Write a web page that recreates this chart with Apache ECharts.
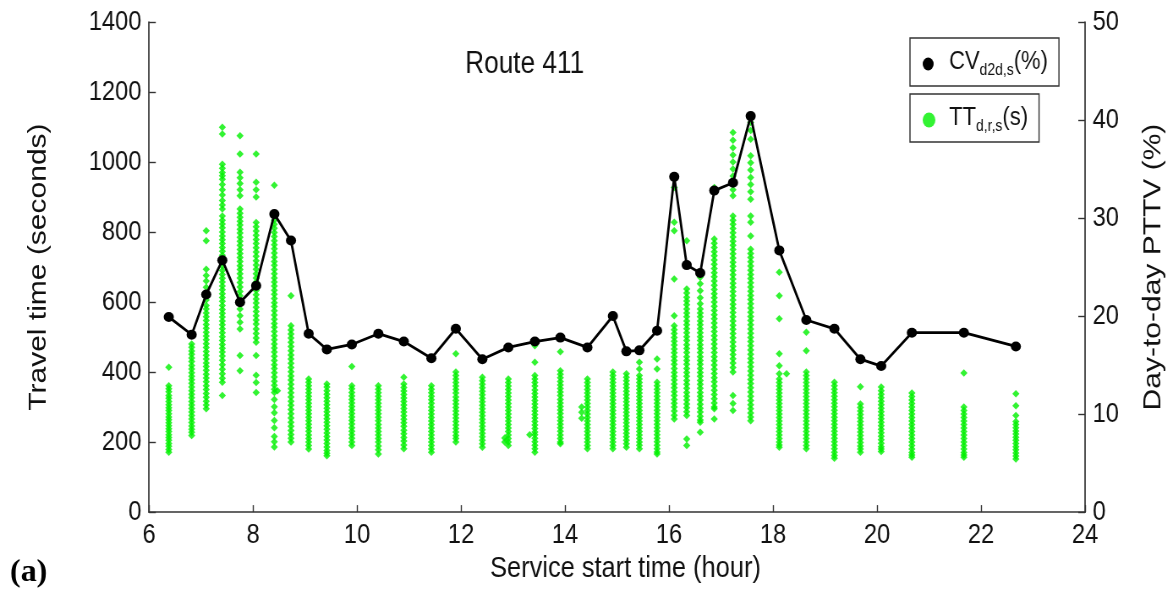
<!DOCTYPE html>
<html><head><meta charset="utf-8">
<script src="https://cdn.jsdelivr.net/npm/echarts@6/dist/echarts.min.js"></script>
<style>
html,body{margin:0;padding:0;background:#fff;overflow:hidden}
#wrap{width:1173px;height:589px;overflow:hidden}
#c{width:1387px;height:589px;transform:scaleX(0.8457);transform-origin:0 0}
</style>
</head><body><div id="wrap"><div id="c"></div></div>
<script>
// Service start times (hour) of each trip column
const hours = [6.38, 6.82, 7.10, 7.41, 7.75, 8.06, 8.41, 8.73, 9.07, 9.42, 9.90, 10.41, 10.90, 11.43, 11.90, 12.41, 12.91, 13.42, 13.91, 14.43, 14.92, 15.18, 15.43, 15.77, 16.10, 16.34, 16.60, 16.87, 17.23, 17.57, 18.12, 18.64, 19.18, 19.68, 20.08, 20.67, 21.67, 22.67];
// Day-to-day PTTV, CV_d2d,s (%)
const cvPct = [19.9, 18.1, 22.2, 25.7, 21.4, 23.1, 30.4, 27.7, 18.2, 16.6, 17.1, 18.2, 17.4, 15.7, 18.7, 15.6, 16.8, 17.4, 17.8, 16.8, 20.0, 16.4, 16.5, 18.5, 34.2, 25.2, 24.4, 32.8, 33.6, 40.4, 26.7, 19.6, 18.7, 15.6, 14.9, 18.3, 18.3, 16.9];
// Travel times TT_d,r,s (s), one list per trip column
const ttByTrip = [
 [414, 361, 352, 344, 333, 325, 316, 307, 298, 290, 281, 272, 264, 255, 247, 238, 230, 221, 213, 205, 196, 188, 179, 171],
 [480, 471, 460, 451, 440, 430, 419, 409, 398, 388, 378, 368, 357, 347, 337, 327, 316, 306, 296, 286, 276, 266, 256, 246, 237, 228, 219],
 [804, 775, 694, 676, 660, 642, 625, 606, 590, 580, 569, 558, 547, 536, 525, 514, 503, 492, 481, 470, 459, 448, 437, 426, 416, 405, 394, 383, 372, 361, 350, 339, 328, 317, 306, 295],
 [1099, 1080, 994, 982, 970, 961, 951, 936, 921, 906, 890, 877, 866, 846, 834, 823, 812, 800, 789, 778, 767, 756, 745, 734, 723, 713, 702, 690, 679, 668, 657, 646, 635, 624, 613, 602, 590, 579, 568, 557, 546, 535, 524, 512, 501, 490, 479, 468, 457, 446, 434, 421, 408, 395, 382, 371, 333],
 [1075, 1023, 971, 955, 939, 921, 904, 866, 854, 842, 831, 820, 808, 797, 785, 774, 762, 750, 739, 727, 716, 704, 693, 681, 669, 656, 643, 630, 618, 580, 561, 542, 523, 447, 404],
 [1023, 942, 921, 900, 827, 815, 803, 791, 779, 767, 755, 743, 731, 718, 706, 694, 681, 669, 657, 645, 633, 621, 609, 597, 585, 573, 561, 549, 537, 523, 510, 497, 485, 447, 391, 370, 342],
 [934, 846, 834, 822, 811, 799, 787, 775, 764, 752, 740, 728, 716, 705, 693, 681, 669, 657, 646, 634, 622, 610, 598, 587, 575, 563, 551, 539, 528, 516, 504, 492, 480, 469, 457, 445, 433, 421, 410, 398, 386, 374, 362, 351, 342, 322, 301, 284, 262, 241, 216, 201, 186],
 [618, 532, 520, 509, 497, 485, 473, 461, 449, 437, 425, 413, 401, 389, 377, 365, 353, 341, 329, 317, 305, 293, 281, 269, 257, 245, 233, 222, 211, 200],
 [380, 371, 361, 351, 341, 331, 321, 311, 301, 291, 281, 271, 261, 251, 241, 231, 220, 210, 200, 190, 180],
 [366, 357, 347, 337, 327, 317, 307, 297, 287, 277, 267, 257, 247, 237, 226, 216, 206, 196, 186, 176, 168, 161],
 [416, 361, 352, 342, 332, 322, 312, 302, 292, 282, 272, 262, 252, 241, 231, 221, 211, 200, 190],
 [361, 351, 341, 331, 321, 311, 301, 291, 281, 271, 261, 250, 240, 230, 220, 210, 200, 189, 178, 166],
 [385, 366, 356, 346, 336, 326, 316, 306, 296, 286, 275, 265, 255, 245, 234, 224, 213, 203, 192, 181],
 [361, 351, 341, 331, 321, 311, 300, 290, 280, 270, 260, 250, 240, 230, 220, 210, 200, 190, 180, 171],
 [452, 400, 390, 380, 370, 360, 350, 340, 329, 319, 309, 299, 289, 279, 269, 259, 249, 239, 229, 219, 210, 200],
 [385, 375, 365, 355, 345, 335, 325, 315, 305, 295, 285, 275, 265, 255, 245, 235, 225, 215, 205, 195, 185],
 [380, 370, 360, 350, 340, 330, 320, 310, 300, 290, 280, 270, 260, 250, 240, 230, 220, 210, 200, 190],
 [475, 428, 390, 380, 370, 360, 349, 339, 329, 319, 309, 299, 289, 279, 269, 259, 249, 239, 229, 221, 211, 201, 191, 181, 171],
 [458, 404, 394, 384, 373, 363, 353, 343, 333, 322, 312, 302, 292, 282, 271, 261, 251, 241, 231, 220, 210, 200, 195],
 [380, 370, 360, 350, 340, 330, 320, 310, 300, 290, 280, 270, 260, 250, 240, 230, 220, 210, 200, 190, 181],
 [400, 390, 380, 370, 360, 350, 340, 330, 320, 310, 300, 290, 280, 270, 260, 250, 240, 230, 220, 210, 200, 190, 181],
 [395, 385, 375, 365, 355, 345, 335, 325, 315, 305, 295, 285, 275, 265, 255, 245, 235, 225, 215, 205, 195, 185],
 [428, 409, 390, 380, 370, 360, 350, 340, 330, 320, 310, 300, 290, 280, 270, 260, 250, 240, 230, 220, 210, 200, 191, 181],
 [437, 409, 371, 361, 351, 341, 331, 321, 311, 301, 291, 281, 271, 261, 251, 241, 231, 221, 211, 201, 191, 181, 172, 166],
 [927, 828, 804, 666, 561, 532, 521, 510, 499, 488, 477, 466, 455, 444, 433, 422, 410, 399, 388, 377, 366, 355, 344, 333, 322, 311, 300, 289, 277, 266],
 [775, 637, 626, 614, 603, 592, 580, 569, 558, 546, 535, 524, 512, 501, 490, 478, 467, 456, 444, 433, 422, 410, 399, 388, 376, 365, 354, 342, 331, 320, 309, 298, 287, 276, 209, 190],
 [671, 652, 632, 612, 595, 580, 569, 558, 546, 535, 524, 512, 501, 490, 478, 467, 456, 444, 433, 422, 410, 399, 388, 376, 365, 354, 342, 331, 320, 308, 297, 286, 274, 263, 257, 228],
 [927, 780, 768, 756, 744, 732, 720, 708, 696, 684, 672, 660, 648, 636, 624, 612, 600, 588, 576, 564, 552, 540, 528, 516, 504, 492, 480, 468, 456, 444, 432, 420, 408, 396, 384, 372, 360, 348, 336, 324, 312, 300, 295, 266],
 [1084, 1062, 1041, 1020, 1000, 980, 960, 940, 921, 904, 846, 834, 822, 810, 798, 786, 774, 762, 750, 738, 726, 714, 702, 690, 678, 666, 654, 642, 630, 618, 606, 594, 582, 570, 558, 546, 534, 522, 510, 498, 486, 474, 462, 450, 438, 426, 413, 400, 333, 310, 290],
 [1113, 1090, 1065, 1018, 998, 977, 956, 936, 915, 894, 846, 828, 789, 751, 739, 727, 715, 703, 691, 679, 667, 655, 643, 631, 619, 607, 595, 583, 571, 559, 547, 535, 523, 511, 499, 487, 475, 463, 451, 439, 427, 415, 403, 391, 379, 367, 355, 343, 331, 319, 307, 295, 283, 272, 261],
 [685, 618, 552, 452, 418, 395, 380, 370, 360, 350, 340, 330, 320, 310, 300, 290, 280, 270, 260, 250, 240, 230, 220, 210, 200, 192, 185],
 [514, 461, 400, 390, 380, 370, 360, 350, 340, 330, 320, 310, 300, 290, 280, 270, 260, 250, 240, 230, 220, 210, 200, 190, 181],
 [371, 361, 351, 341, 331, 321, 311, 301, 291, 281, 271, 261, 251, 241, 231, 221, 211, 201, 191, 181, 171, 162, 154],
 [358, 309, 299, 289, 279, 269, 259, 249, 239, 229, 219, 209, 199, 189, 180, 171],
 [357, 347, 337, 327, 317, 307, 297, 287, 277, 267, 257, 247, 237, 227, 217, 207, 197, 187, 180, 173],
 [340, 330, 320, 310, 300, 290, 280, 270, 260, 250, 240, 230, 220, 210, 200, 190, 180, 170, 163, 157],
 [397, 300, 290, 280, 270, 260, 250, 240, 230, 220, 210, 200, 190, 180, 170, 163, 157],
 [338, 304, 276, 259, 250, 241, 232, 223, 214, 205, 196, 187, 178, 169, 160, 152]
];
// a few travel-time points drawn slightly off their column: [hour, seconds]
const ttOffColumn = [[8.47, 347], [12.84, 212], [12.84, 200], [13.32, 221], [14.32, 300], [14.32, 285], [14.32, 268], [18.26, 395]];

// The reference figure is horizontally compressed; draw wide and squeeze by SX.
const SX = 0.8457;
const SANS = "'Liberation Sans',Arial,sans-serif";

const ttPoints = [];
hours.forEach((h, i) => ttByTrip[i].forEach(v => ttPoints.push([h, v])));
ttOffColumn.forEach(p => ttPoints.push(p));
const cvPoints = hours.map((h, i) => [h, cvPct[i]]);

const axisCommon = {
  axisLine: {show: true, lineStyle: {color: '#333', width: 1.7}},
  axisTick: {show: true, inside: true, length: 8, lineStyle: {color: '#333', width: 1.4}},
  axisLabel: {margin: 9, fontFamily: SANS, fontSize: 28, color: '#111', formatter: v => String(v)},
  splitLine: {show: false},
  nameTextStyle: {fontFamily: SANS, fontSize: 30, color: '#111'}
};

function rich(gapW) {
  return {
    g: {width: gapW, lineHeight: 30},
    m: {fontFamily: SANS, fontSize: 26, color: '#111', lineHeight: 25, verticalAlign: 'top'},
    s: {fontFamily: SANS, fontSize: 16.5, color: '#111', lineHeight: 15, verticalAlign: 'bottom'}
  };
}

const chart = echarts.init(document.getElementById('c'));
chart.setOption({
  animation: false,
  backgroundColor: '#fff',
  title: {text: 'Route 411', left: 545, top: 44, textStyle: {fontFamily: SANS, fontSize: 31, fontWeight: 'normal', color: '#111'}},
  grid: {left: 176.2, right: 95.7, top: 22, bottom: 76},
  xAxis: Object.assign({}, axisCommon, {
    type: 'value', min: 6, max: 24, interval: 2,
    name: 'Service start time (hour)', nameLocation: 'middle', nameGap: 40,
    nameTextStyle: {fontFamily: SANS, fontSize: 30, color: '#111', padding: [0, 0, 0, 20]},
    axisTick: {show: true, inside: true, length: 7, lineStyle: {color: '#333', width: 1.4}}
  }),
  yAxis: [
    Object.assign({}, axisCommon, {type: 'value', min: 0, max: 1400, interval: 200, position: 'left',
      name: 'Travel time (seconds)', nameLocation: 'middle', nameGap: 115, nameRotate: 90}),
    Object.assign({}, axisCommon, {type: 'value', min: 0, max: 50, interval: 10, position: 'right',
      name: 'Day-to-day PTTV (%)', nameLocation: 'middle', nameGap: 66, nameRotate: 90})
  ],
  legend: [
    {data: ['CV'], left: 1076, top: 38, selectedMode: false, icon: 'circle', itemWidth: 15.4, itemHeight: 13,
     borderColor: '#333', borderWidth: 1.4, padding: [11, 13, 7, 15],
     formatter: () => '{g|}{m|CV}{s|d2d,s}{m|(%)}', textStyle: {rich: rich(12)}},
    {data: ['TT'], left: 1076, top: 94, selectedMode: false, icon: 'circle', itemWidth: 17.7, itemHeight: 15,
     borderColor: '#333', borderWidth: 1.4, padding: [11, 13, 7, 15],
     formatter: () => '{g|}{m|TT}{s|d,r,s}{m|(s)}', textStyle: {rich: rich(10)}}
  ],
  series: [
    {name: 'TT', type: 'scatter', yAxisIndex: 0, data: ttPoints, symbol: 'diamond', symbolSize: [8.5, 7.5],
     itemStyle: {color: '#00f000'}, z: 2},
    {name: 'CV', type: 'line', yAxisIndex: 1, data: cvPoints, symbol: 'circle', symbolSize: [12, 10],
     lineStyle: {color: '#000', width: 2.8}, itemStyle: {color: '#000'}, z: 3}
  ],
  graphic: [{type: 'text', left: 11.8, top: 557, scaleX: 1 / SX,
    style: {text: '(a)', font: 'bold 32px "Liberation Serif"', fill: '#000'}}]
});
</script></body></html>
